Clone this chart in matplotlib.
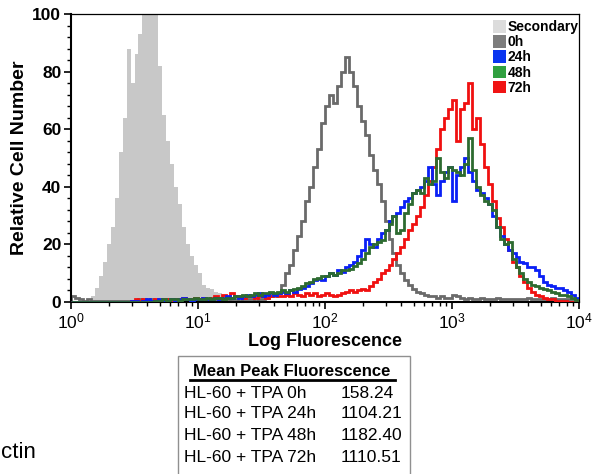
import numpy as np
import matplotlib
matplotlib.use("Agg")
import matplotlib.pyplot as plt
from matplotlib.patches import Patch, Rectangle
from matplotlib.lines import Line2D
from matplotlib.ticker import MultipleLocator, LogLocator, NullFormatter

plt.rcParams['font.family'] = ['Liberation Sans', 'DejaVu Sans']
plt.rcParams['mathtext.fontset'] = 'custom'
plt.rcParams['mathtext.rm'] = 'Liberation Sans'

# 128 log-spaced channels from 10^0 to 10^4 (32 per decade)
secondary = [
    0, 0, 0, 0, 0.5, 2, 5, 9, 14, 20, 26, 36, 52, 64, 88, 76,
    86, 93, 100, 100, 100, 100, 82, 65, 56, 48, 40, 34, 26, 20, 16, 13,
    10, 6, 5, 4.5, 3.5, 3, 2.5, 2, 1.2, 0.5, 0, 0, 0, 0, 0, 0,
    0, 0, 0, 0, 0, 0, 0, 0, 0, 0, 0, 0, 0, 0, 0, 0,
    0, 0, 0, 0, 0, 0, 0, 0, 0, 0, 0, 0, 0, 0, 0, 0,
    0, 0, 0, 0, 0, 0, 0, 0, 0, 0, 0, 0, 0, 0, 0, 0,
    0, 0, 0, 0, 0, 0, 0, 0, 0, 0, 0, 0, 0, 0, 0, 0,
    0, 0, 0, 0, 0, 0, 0, 0, 0, 0, 0, 0, 0, 0, 0, 0,
]
h0 = [
    2, 1.5, 1, 0.5, 1, 0.5, 0.5, 0.5, 0.5, 0.5, 0.5, 0.5, 0.5, 0.5, 0.5, 0.5,
    0.5, 1, 0.5, 0.5, 1, 0.5, 0.5, 0.5, 1, 0.5, 0.5, 0.5, 0.5, 1, 0.5, 0.5,
    0.5, 0.5, 1, 0.5, 0.5, 1, 0.5, 0.5, 1, 1, 0.5, 1, 1, 1, 0.5, 1,
    1, 1.5, 2, 2, 3, 6, 10, 13, 18, 23, 28, 35, 40, 47, 53, 62,
    68, 72, 69, 75, 80, 85, 80, 75, 68, 63, 58, 51, 46, 41, 35, 28,
    22, 17, 13, 10, 7.5, 6, 4.5, 3.5, 3, 2.5, 2, 2, 1.5, 2, 1.5, 1.5,
    2.5, 2, 1.5, 1, 1.5, 1, 1, 1.5, 1, 1, 1, 1.5, 1, 1, 1, 1,
    1, 1, 1, 1.5, 1, 1, 1, 1, 1, 1.5, 1, 1, 1, 1, 1, 1,
]
h24 = [
    0, 0, 0, 0, 0, 0, 0, 0, 0, 0, 0, 0, 0, 0, 0, 0.5,
    0.5, 0, 0.5, 1, 0.5, 0.5, 1, 0.5, 0.5, 1, 0.5, 1, 1.5, 1, 0.5, 1,
    1, 1.5, 1, 1, 1.5, 1, 1.5, 2, 1.5, 2, 1.5, 2, 2.5, 2, 2.5, 3,
    2, 2.5, 3, 2.5, 3, 3.5, 3, 4, 3.5, 4.5, 5, 5.5, 6.5, 7.5, 8, 7.5,
    9, 10, 9.5, 11, 10.5, 12, 13, 14, 16, 18, 22, 20, 19, 22, 24, 25,
    28, 30, 31, 33, 35, 36, 38, 39, 40, 42, 47, 41, 37, 42, 45, 47,
    35, 44, 47, 50, 45, 42, 39, 38, 36, 34, 30, 26, 23, 20, 18, 17,
    15.5, 14, 13.5, 12, 12, 11, 9, 7, 6, 5.5, 5, 5, 4, 3.5, 2.5, 1.5,
]
h48 = [
    0, 0, 0, 0, 0, 0, 0, 0, 0, 0, 0, 0, 0, 0, 0, 0,
    0, 0, 0, 0, 0, 0.5, 0.5, 1, 0.5, 1, 1, 0.5, 1, 1, 1, 1.5,
    1, 1, 1.5, 1, 1.5, 1.5, 1, 1.5, 1.5, 2, 2, 2.5, 2, 2.5, 3, 2.5,
    3, 3, 3.5, 3, 3.5, 4, 3.5, 4, 4.5, 5, 5.5, 6.5, 7, 8, 8.5, 9,
    9, 10, 9.5, 10, 11, 11, 11.5, 12.5, 13.5, 15, 17, 19, 20, 21, 21.5, 25,
    27, 30, 24, 25, 31, 34, 38, 39, 38, 43, 41, 42, 50, 45, 43, 47,
    46, 45, 44, 48, 57, 46, 40, 37, 35, 34, 32, 26, 22, 20, 21, 15,
    12, 10, 8, 7, 6, 5.5, 5, 4.5, 4, 3.5, 3, 2.5, 2.5, 2, 1.5, 0.7,
]
h72 = [
    0, 0, 0, 0, 0, 0, 0, 0, 0, 0, 0, 0, 0, 0, 0, 0.5,
    1, 0.5, 1, 0.5, 0.5, 1, 0.5, 1, 1, 0.5, 1, 1, 1.5, 1, 1, 1.5,
    1, 1.5, 1, 1.5, 2, 1.5, 2.5, 1.5, 3, 2, 2, 1.5, 2, 2, 1.5, 2,
    2, 1.5, 2, 2.5, 2, 2, 2.5, 2, 3, 2.5, 2, 3, 2.5, 3, 2, 2.5,
    3, 2.5, 2, 2.5, 3, 3.5, 4, 3.5, 4, 4.5, 4, 5.5, 7, 8, 10, 11,
    13, 15, 17, 19, 22, 25, 27, 30, 33, 37, 42, 47, 53, 60, 64, 67,
    70, 56, 67, 69, 76, 60, 64, 55, 47, 41, 35, 29, 26, 22, 18, 14,
    12, 9, 7, 5, 3.5, 2.5, 2, 1.5, 1, 1, 0.5, 0.5, 0.5, 0, 0, 0,
]

legend_labels = ['Secondary', '0h', '24h', '48h', '72h']
legend_colors = ['#dcdcdc', '#7d7d7d', '#0a35f0', '#30a040', '#f01414']

table_title = 'Mean Peak Fluorescence'
table_rows = ['HL-60 + TPA 0h', 'HL-60 + TPA 24h', 'HL-60 + TPA 48h', 'HL-60 + TPA 72h']
table_vals = ['158.24', '1104.21', '1182.40', '1110.51']

edges = np.logspace(0, 4, len(secondary) + 1)

fig = plt.figure(figsize=(6, 4.74), dpi=100)
ax = fig.add_axes([71/600, 1 - 302/474, 508/600, 288/474])

ax.stairs(secondary, edges, fill=True, color='#c8c8c8', zorder=1)
ax.stairs(h0, edges, color='#6a6a6a', lw=2.0, zorder=2)
ax.stairs(h72, edges, color='#f01010', lw=2.0, zorder=3)
ax.stairs(h24, edges, color='#0a20f5', lw=2.0, zorder=4)
ax.stairs(h48, edges, color='#2d6b30', lw=2.0, zorder=5)

ax.set_xscale('log')
ax.set_xlim(1, 1e4)
ax.set_ylim(0, 100)
ax.xaxis.set_major_locator(LogLocator(base=10, numticks=10))
ax.xaxis.set_minor_locator(LogLocator(base=10, subs=np.arange(2, 10), numticks=10))
ax.xaxis.set_minor_formatter(NullFormatter())
yt = [0, 20, 40, 60, 80, 100]
ax.set_yticks(yt, [str(v) for v in yt], fontweight='bold', fontsize=12.5)
ax.yaxis.set_minor_locator(MultipleLocator(4))
ax.tick_params(axis='x', which='major', labelsize=12.5, length=5, width=1.2, direction='out', pad=2)
ax.tick_params(axis='x', which='minor', length=3, width=1, direction='out')
ax.tick_params(axis='y', which='major', length=5, width=1.2, direction='out', pad=2)
ax.tick_params(axis='y', which='minor', length=3, width=1, direction='out')
for s in ['left', 'bottom']:
    ax.spines[s].set_linewidth(1.5)
for s in ['top', 'right']:
    ax.spines[s].set_linewidth(0.9)

ax.set_xlabel('Log Fluorescence', fontsize=13, fontweight='bold', labelpad=1)
ax.set_ylabel('Relative Cell Number', fontsize=14, fontweight='bold', labelpad=3)

handles = [Patch(facecolor=c, edgecolor='none') for c in legend_colors]
ax.legend(handles, legend_labels, loc='upper right', bbox_to_anchor=(1.012, 1.0),
          frameon=False, prop={'weight': 'bold', 'size': 10},
          handlelength=0.95, handleheight=1.0, handletextpad=0.15,
          labelspacing=0.08, borderaxespad=0.35, borderpad=0.1)

# summary table below the plot
fig.patches.append(Rectangle((178/600, -0.05), 232/600, 1 - 356/474 + 0.05,
                             transform=fig.transFigure, fill=False,
                             edgecolor='#909090', lw=1))
fig.text(292/600, 1 - 372/474, table_title, ha='center', va='center',
         fontsize=12, fontweight='bold')
fig.add_artist(Line2D([190/600, 395/600], [1 - 380/474, 1 - 380/474],
                      transform=fig.transFigure, color='black', lw=2))
row_y = [393, 414, 436, 457]
for lab, val, y in zip(table_rows, table_vals, row_y):
    fig.text(184/600, 1 - y/474, lab, ha='left', va='center', fontsize=12.5)
    fig.text(341/600, 1 - y/474, val, ha='left', va='center', fontsize=12.5)

fig.text(1/600, 1 - 453/474, 'ctin', ha='left', va='center', fontsize=16)

fig.savefig('out.png', dpi=100)
